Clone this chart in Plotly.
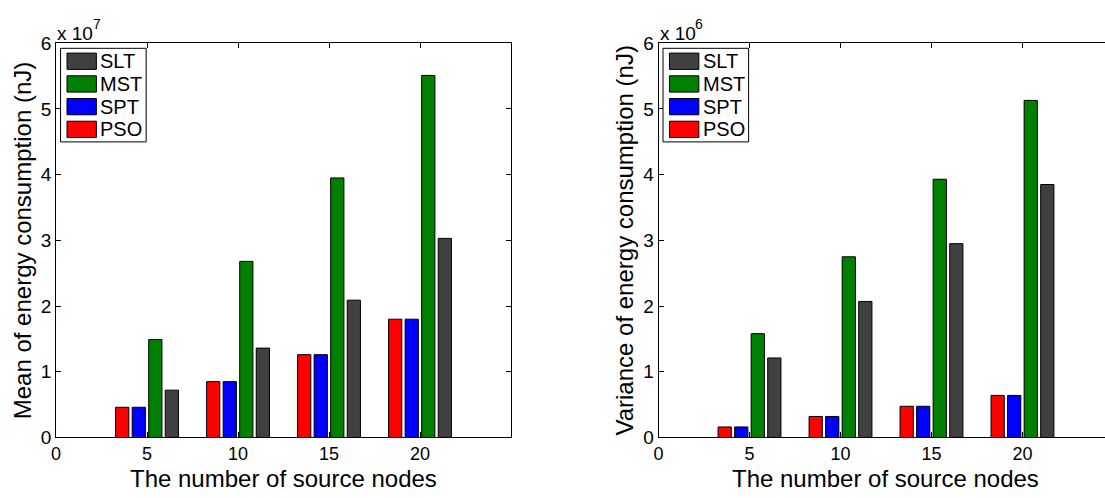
import plotly.graph_objects as go

# Number of source nodes (group positions on the x axis)
sources = [5, 10, 15, 20]

# Mean of energy consumption (nJ)
mean_pso = [0.46e7, 0.85e7, 1.26e7, 1.80e7]
mean_spt = [0.46e7, 0.85e7, 1.26e7, 1.80e7]
mean_mst = [1.49e7, 2.68e7, 3.95e7, 5.51e7]
mean_slt = [0.72e7, 1.36e7, 2.09e7, 3.03e7]

# Variance of energy consumption (nJ)
var_pso = [0.16e6, 0.32e6, 0.475e6, 0.64e6]
var_spt = [0.16e6, 0.32e6, 0.475e6, 0.64e6]
var_mst = [1.58e6, 2.75e6, 3.93e6, 5.13e6]
var_slt = [1.21e6, 2.07e6, 2.95e6, 3.85e6]

series_names = ["PSO", "SPT", "MST", "SLT"]
series_colors = ["#ff0000", "#0000ff", "#008000", "#404040"]

x_ticks = [0, 5, 10, 15, 20]
y_ticks_left = [0, 1e7, 2e7, 3e7, 4e7, 5e7, 6e7]
y_ticks_right = [0, 1e6, 2e6, 3e6, 4e6, 5e6, 6e6]
y_ticktext = ["0", "1", "2", "3", "4", "5", "6"]

W, H = 1105, 498
FONT = "Liberation Sans, Arial, Helvetica, sans-serif"

def px_x(p):
    return p / W

def px_y(p):
    return (H - p) / H

fig = go.Figure()

for name, color, ys in zip(series_names, series_colors, [mean_pso, mean_spt, mean_mst, mean_slt]):
    fig.add_trace(go.Bar(x=sources, y=ys, name=name, marker=dict(color=color, line=dict(color="black", width=1)),
                         xaxis="x", yaxis="y", showlegend=False))
for name, color, ys in zip(series_names, series_colors, [var_pso, var_spt, var_mst, var_slt]):
    fig.add_trace(go.Bar(x=sources, y=ys, name=name, marker=dict(color=color, line=dict(color="black", width=1)),
                         xaxis="x2", yaxis="y2", showlegend=False))

left_x0, left_x1 = 51.3, 508.3
right_x0 = 656.5
px_per_unit = (left_x1 - left_x0) / 25.0
top_px, bot_px = 34.7, 446.3

axis_common = dict(showline=True, linecolor="black", linewidth=1, ticks="inside", ticklen=5,
                   tickcolor="black", showgrid=False, zeroline=False)
tick_font_x = dict(family=FONT, size=18, color="black")
tick_font_y = dict(family=FONT, size=19, color="black")

fig.update_layout(
    width=W, height=H, autosize=False,
    margin=dict(l=0, r=0, t=0, b=0),
    paper_bgcolor="white", plot_bgcolor="white",
    barmode="group", bargap=0.2727, bargroupgap=0.2,
    xaxis=dict(domain=[px_x(left_x0), px_x(left_x1)], range=[0, 25], tickvals=x_ticks,
               mirror="ticks", anchor="y", tickfont=tick_font_x, **axis_common),
    yaxis=dict(domain=[px_y(bot_px), px_y(top_px)], range=[0, 6e7], tickvals=y_ticks_left,
               ticktext=y_ticktext, mirror="ticks", anchor="x", tickfont=tick_font_y, **axis_common),
    xaxis2=dict(domain=[px_x(right_x0), 1.0], range=[0, (W - right_x0) / px_per_unit], tickvals=x_ticks,
                mirror="ticks", anchor="y2", tickfont=tick_font_x, **axis_common),
    yaxis2=dict(domain=[px_y(bot_px), px_y(top_px)], range=[0, 6e6], tickvals=y_ticks_right,
                ticktext=y_ticktext, mirror=False, anchor="x2", tickfont=tick_font_y, **axis_common),
)

annotations = []
shapes = []

def add_text(text, x, y, size, xanchor="center", yanchor="middle", angle=0, pad=1):
    annotations.append(dict(text=text, x=px_x(x), y=px_y(y), xref="paper", yref="paper",
                            xanchor=xanchor, yanchor=yanchor, showarrow=False, textangle=angle,
                            borderpad=pad, font=dict(family=FONT, size=size, color="black")))

# axis titles
add_text("The number of source nodes", (left_x0 + left_x1) / 2, 489, 24, pad=0)
add_text("The number of source nodes", right_x0 + (left_x1 - left_x0) / 2, 489, 24, pad=0)
add_text("Mean of energy consumption (nJ)", 17, (top_px + bot_px) / 2, 24, angle=-90)
add_text("Variance of energy consumption (nJ)", 622, (top_px + bot_px) / 2, 24, angle=-90)

# axis exponent labels (x 10^7 and x 10^6)
for ax0, power in ((left_x0, "7"), (right_x0, "6")):
    add_text("x 10", ax0 - 1, 25, 19, xanchor="left")
    add_text(power, ax0 + 35, 15, 14, xanchor="left")

# legends: SLT, MST, SPT, PSO from top to bottom
legend_order = list(zip(series_names, series_colors))[::-1]
for ax0 in (left_x0, right_x0):
    bx0 = ax0 + 4.5
    bx1 = bx0 + 86
    by0, by1 = 40, 137.7
    shapes.append(dict(type="rect", xref="paper", yref="paper", x0=px_x(bx0), x1=px_x(bx1),
                       y0=px_y(by1), y1=px_y(by0), line=dict(color="black", width=1), fillcolor="white"))
    for i, (name, color) in enumerate(legend_order):
        top = 45 + i * 23.7
        shapes.append(dict(type="rect", xref="paper", yref="paper", x0=px_x(bx0 + 6.5), x1=px_x(bx0 + 36),
                           y0=px_y(top + 17), y1=px_y(top), line=dict(color="black", width=1),
                           fillcolor=color))
        add_text(name, bx0 + 38, top + 8.5, 20, xanchor="left")

fig.update_layout(annotations=annotations, shapes=shapes)

fig.write_html("out.html")
